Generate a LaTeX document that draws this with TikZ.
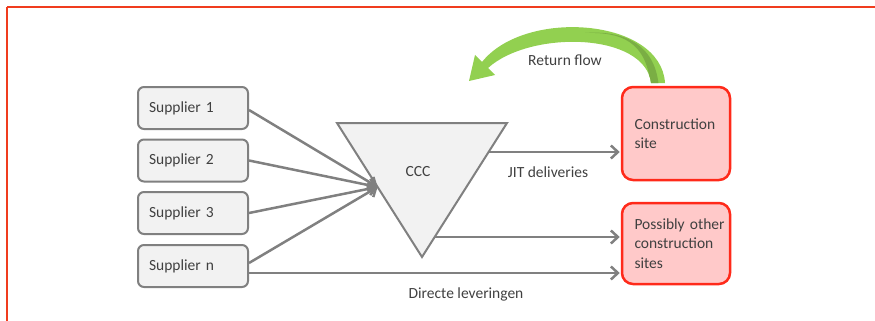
\documentclass[tikz,border=0pt]{standalone}
\usepackage{fontspec}
\setmainfont{Carlito}
\usetikzlibrary{arrows.meta,calc}
\definecolor{framered}{HTML}{F03C1E}
\definecolor{boxgray}{HTML}{F2F2F2}
\definecolor{linegray}{HTML}{808080}
\definecolor{txtgray}{HTML}{404040}
\definecolor{sitered}{HTML}{FF2A1A}
\definecolor{sitefill}{HTML}{FFC9C9}
\definecolor{flowgreen}{HTML}{92D050}
\definecolor{flowdark}{HTML}{7AAE44}
\tikzset{
  supbox/.style={draw=linegray, line width=2pt, fill=boxgray, rounded corners=6pt,
    minimum width=110pt, minimum height=42pt, text width=88pt, inner xsep=11pt,
    align=left, font=\fontsize{15.5}{18}\selectfont, text=txtgray},
  sitebox/.style={draw=sitered, line width=2.5pt, fill=sitefill, rounded corners=11pt,
    minimum width=108pt, text width=83pt, inner xsep=12.5pt, align=left,
    font=\fontsize{15.5}{19.5}\selectfont, text=txtgray},
  flow/.style={draw=linegray, line width=2.5pt, -{Straight Barb[length=7pt,width=13pt,line width=2.5pt]}},
  lbl/.style={font=\fontsize{15.5}{18}\selectfont, text=txtgray},
}
\begin{document}
\begin{tikzpicture}[x=1pt,y=-1pt]
\useasboundingbox (0,0) rectangle (875,321);
% frame
\draw[framered, line width=2.5pt] (7,7) -- (875,7);
\draw[framered, line width=1.5pt] (7,7) -- (7,321);

% suppliers
\node[supbox] (s1) at (193,108) {Supplier 1};
\node[supbox] (s2) at (193,160.5) {Supplier 2};
\node[supbox] (s3) at (193,213) {Supplier 3};
\node[supbox] (sn) at (193,266) {Supplier n};

% CCC triangle
\coordinate (tL) at (337,123);
\coordinate (tR) at (507,123);
\coordinate (tB) at (422,257);
\draw[linegray, line width=2pt, fill=boxgray, line join=miter] (tL) -- (tR) -- (tB) -- cycle;
\node[lbl] (ccc) at (418,172) {CCC};
\coordinate (conv) at ($(tL)!0.4776!(tB)$);
\coordinate (jit) at ($(tR)!0.2164!(tB)$);
\coordinate (oth) at ($(tR)!0.8507!(tB)$);
\coordinate (dir) at ([yshift=-7pt]sn.east);

% sites
\node[sitebox, minimum height=93pt] (cs) at (676,133.5) {Construction\\site};
\node[sitebox, minimum height=81pt] (po) at (676,243.5) {\mbox{Possibly other}\\construction\\sites};

% connectors
\draw[flow] ([yshift=-2pt]s1.east) -- (conv);
\draw[flow] (s2.east) -- (conv);
\draw[flow] (s3.east) -- (conv);
\draw[flow] ([yshift=3pt]sn.east) -- (conv);
\draw[flow] (jit) -- ([xshift=-1pt]cs.west |- jit);
\draw[flow] (oth) -- ([xshift=-1pt]po.west |- oth);
\draw[flow] (dir) -- ([xshift=-1pt]po.west |- dir);

\node[lbl] (jitl) at (548,172) {JIT deliveries};
\node[lbl] (dirl) at (466,294) {Directe leveringen};

% return flow arrow
\begin{scope}
\clip (665,83) .. controls (661,18) and (525,8) .. (482,62)
  -- (475,55) -- (469,81) -- (495,75) -- (488,68)
  .. controls (530,30) and (645,32) .. (651,83) -- cycle;
\fill[flowgreen] (400,0) rectangle (700,100);
\fill[flowdark] (651,90) .. controls (648,40) and (620,32) .. (585,33)
  .. controls (625,30) and (657,45) .. (659,90) -- cycle;
\end{scope}
\node[lbl] (rf) at (565,60) {Return flow};
\end{tikzpicture}
\end{document}
